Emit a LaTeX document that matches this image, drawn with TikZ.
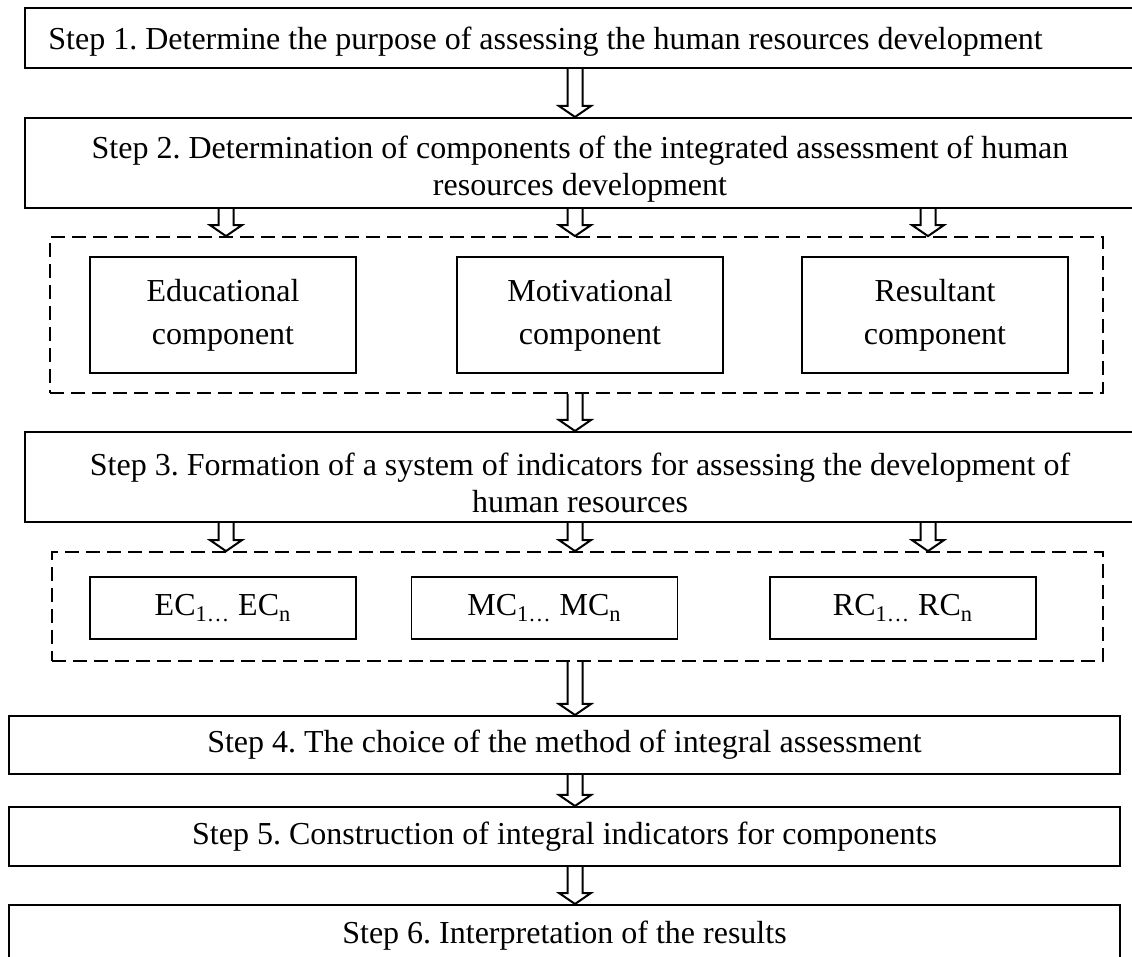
\documentclass[tikz,border=0pt]{standalone}
\usepackage{fontspec}
\setmainfont{Liberation Serif}
\usetikzlibrary{calc}
\newcommand{\diagfont}{\fontsize{16}{18.5}\selectfont\frenchspacing}
\newcommand{\compfont}{\fontsize{16}{21.5}\selectfont\frenchspacing}
% hollow block arrow between two points of one column
\newcommand{\hollowarrow}[2]{%
  \draw[blockarrow] let \p1=(#1), \p2=(#2) in
    (\x1-3.75pt,\y1) -- (\x1-3.75pt,\y2+5.5pt) -- (\x1-8pt,\y2+5.5pt) -- (\x1,\y2)
    -- (\x1+8pt,\y2+5.5pt) -- (\x1+3.75pt,\y2+5.5pt) -- (\x1+3.75pt,\y1);}
\begin{document}
\begin{tikzpicture}[x=0.5pt, y=-0.5pt, line join=miter,
  stepbox/.style={draw, line width=1pt, inner sep=0pt, font=\diagfont},
  steptext/.style={inner sep=0pt, align=center, font=\diagfont},
  compbox/.style={draw, line width=0.9pt, inner sep=0pt, align=center, font=\compfont},
  groupbox/.style={draw, line width=0.9pt, dash pattern=on 7pt off 3.5pt},
  blockarrow/.style={line width=1pt}]
\useasboundingbox (0,0) rectangle (1132,957);

\coordinate (colA) at (226,0);
\coordinate (colB) at (575,0);
\coordinate (colC) at (928,0);

\node[stepbox, minimum width=560pt, minimum height=30pt] (s1) at (585,38) {};
\node[steptext, anchor=base west] (t1) at (48,50) {Step 1. Determine the purpose of assessing the human resources development};

\node[stepbox, minimum width=560pt, minimum height=45pt] (s2) at (585,163) {};
\node[steptext] (t2) at (580,169) {Step 2. Determination of components of the integrated assessment of human\\resources development};

\node[groupbox, minimum width=526.5pt, minimum height=78pt] (g1) at (576.5,315) {};
\node[compbox, minimum width=133pt, minimum height=58pt] (edu) at (223,315) {Educational\\component};
\node[compbox, minimum width=133pt, minimum height=58pt] (mot) at (590,315) {Motivational\\component};
\node[compbox, minimum width=133pt, minimum height=58pt] (res) at (935,315) {Resultant\\component};

\node[stepbox, minimum width=560pt, minimum height=45pt] (s3) at (585,477) {};
\node[steptext] (t3) at (580,483) {Step 3. Formation of a system of indicators for assessing the development of\\human resources};

\node[groupbox, minimum width=525.5pt, minimum height=54.5pt] (g2) at (577.5,606.5) {};
\node[compbox, minimum width=133pt, minimum height=31pt] (ec) at (223,608) {EC\textsubscript{1\ldots} EC\textsubscript{n}};
\node[compbox, minimum width=133pt, minimum height=31pt] (mc) at (544.5,608) {MC\textsubscript{1\ldots} MC\textsubscript{n}};
\node[compbox, minimum width=133pt, minimum height=31pt] (rc) at (903,608) {RC\textsubscript{1\ldots} RC\textsubscript{n}};

\node[stepbox, minimum width=555.5pt, minimum height=29pt] (s4) at (564.5,745) {Step 4. The choice of the method of integral assessment};
\node[stepbox, minimum width=555.5pt, minimum height=29.5pt] (s5) at (564.5,836.5) {Step 5. Construction of integral indicators for components};
\node[stepbox, minimum width=555.5pt, minimum height=31pt] (s6) at (564.5,936) {Step 6. Interpretation of the results};

\hollowarrow{s1.south -| colB}{s2.north -| colB}
\hollowarrow{s2.south -| colA}{g1.north -| colA}
\hollowarrow{s2.south -| colB}{g1.north -| colB}
\hollowarrow{s2.south -| colC}{g1.north -| colC}
\hollowarrow{g1.south -| colB}{s3.north -| colB}
\hollowarrow{s3.south -| colA}{g2.north -| colA}
\hollowarrow{s3.south -| colB}{g2.north -| colB}
\hollowarrow{s3.south -| colC}{g2.north -| colC}
\hollowarrow{g2.south -| colB}{s4.north -| colB}
\hollowarrow{s4.south -| colB}{s5.north -| colB}
\hollowarrow{s5.south -| colB}{s6.north -| colB}
\end{tikzpicture}
\end{document}
